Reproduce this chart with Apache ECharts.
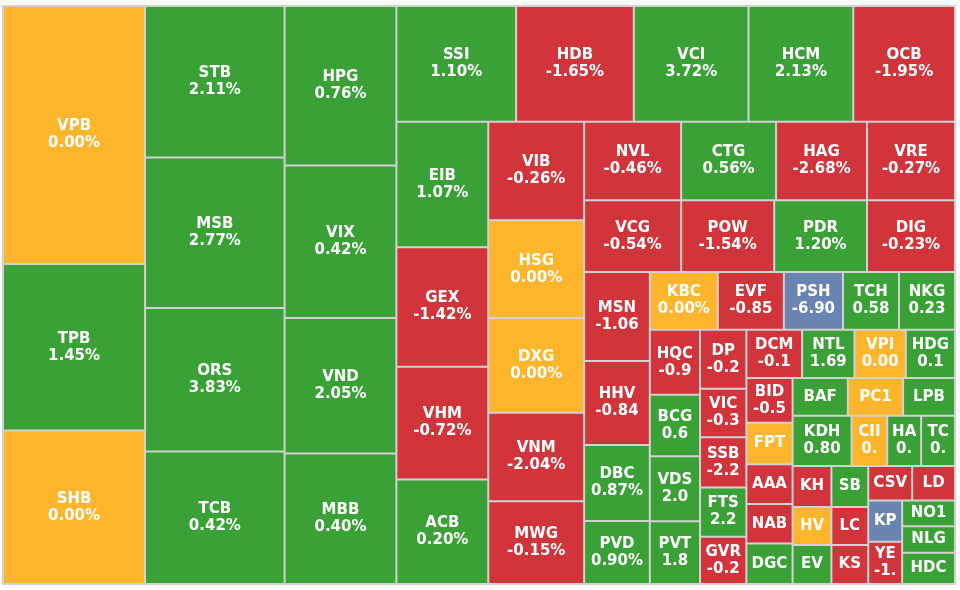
<!DOCTYPE html>
<html>
<head>
<meta charset="utf-8">
<script src="https://cdn.jsdelivr.net/npm/echarts@6/dist/echarts.min.js"></script>
<style>
html,body{margin:0;padding:0;background:#fff;}
#chart{width:960px;height:590px;}
</style>
</head>
<body>
<div id="chart"></div>
<script>
// Tickers, in layout order
const tickers = [
  'VPB','TPB','SHB','STB','MSB','ORS','TCB','HPG','VIX','VND','MBB',
  'SSI','HDB','VCI','HCM','OCB','EIB','GEX','VHM','ACB','VIB','HSG','DXG','VNM','MWG',
  'NVL','CTG','HAG','VRE','VCG','POW','PDR','DIG','MSN','HHV','DBC','PVD',
  'KBC','EVF','PSH','TCH','NKG',
  'HQC','BCG','VDS','PVT',
  'DPM','VIC','SSB','FTS','GVR',
  'DCM','NTL','VPI','HDG',
  'BID','FPT','AAA','NAB','DGC',
  'BAF','PC1','LPB',
  'KDH','CII','HAH','TCM',
  'KHG','HVN','EVG','SBT','LCG','KSB','CSV','LDG','KPF','YEG','NO1','NLG','HDC'
];
// Relative size of each cell
const sizes = [
  36856,23764,21914,21234,21095,20117,18580,17920,17136,15232,14672,
  13920,13688,13340,12180,11832,11592,11040,10396,9660,9504,9408,9120,8544,7968,
  7663,7505,7189,6952,6984,6700,6680,6336,5874,5544,5016,4158,
  3944,3828,3422,3248,3248,
  3286,3100,3286,3162,
  2756,2250,2340,2295,2205,
  2703,2544,2491,2385,
  2080,1932,1840,1840,1880,
  2100,2100,1974,
  2976,1800,1710,1710,
  1600,1480,1520,1520,1406,1444,1520,1480,1406,1444,1369,1406,1665
];
// Price change, percent
const changes = [
  0.00,1.45,0.00,2.11,2.77,3.83,0.42,0.76,0.42,2.05,0.40,
  1.10,-1.65,3.72,2.13,-1.95,1.07,-1.42,-0.72,0.20,-0.26,0.00,0.00,-2.04,-0.15,
  -0.46,0.56,-2.68,-0.27,-0.54,-1.54,1.20,-0.23,-1.06,-0.84,0.87,0.90,
  0.00,-0.85,-6.90,0.58,0.23,
  -0.90,0.63,2.05,1.80,
  -0.28,-0.35,-2.25,2.26,-0.25,
  -0.14,1.69,0.00,0.13,
  -0.50,0.00,-0.80,-0.60,0.90,
  1.20,0.00,0.60,
  0.80,0.00,0.85,0.25,
  -1.10,0.00,0.80,0.70,-1.50,-0.70,-0.90,-1.20,-6.95,-1.00,1.30,0.50,1.55
];

const COLORS = { up: '#3aa136', down: '#d1343a', flat: '#fdb52b', floor: '#6a84b2' };
function colorFor(c) {
  if (c <= -6.9) return COLORS.floor;
  if (c > 0) return COLORS.up;
  if (c < 0) return COLORS.down;
  return COLORS.flat;
}

const data = tickers.map((t, i) => ({
  name: t,
  value: sizes[i],
  change: changes[i],
  itemStyle: { color: colorFor(changes[i]) }
}));

const chart = echarts.init(document.getElementById('chart'));
chart.setOption({
  animation: false,
  series: [{
    type: 'treemap',
    left: 2, top: 5, right: 4, bottom: 5,
    sort: false,
    roam: false,
    nodeClick: false,
    breadcrumb: { show: false },
    squareRatio: 0.9,
    itemStyle: { borderColor: '#d2d2d2', borderWidth: 1, gapWidth: 0 },
    label: {
      show: true,
      position: 'inside',
      color: '#fff',
      fontFamily: 'DejaVu Sans',
      fontWeight: 'bold',
      fontSize: 15,
      lineHeight: 17,
      padding: 3,
      overflow: 'truncate',
      ellipsis: '',
      lineOverflow: 'truncate',
      formatter: p => p.name + '\n' + p.data.change.toFixed(2) + '%'
    },
    data: data
  }]
});
</script>
</body>
</html>
